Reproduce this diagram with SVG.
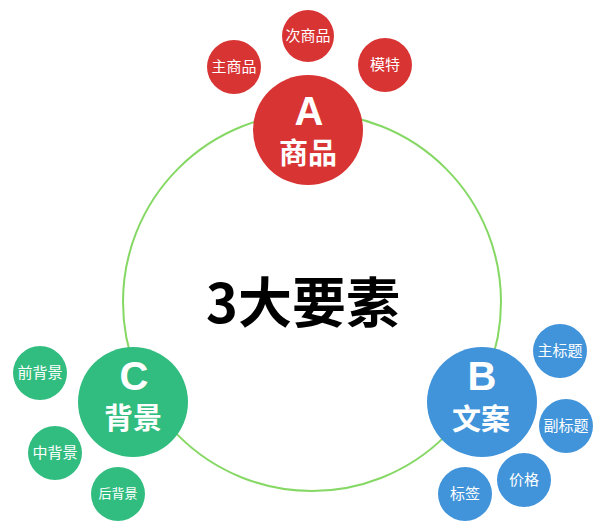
<svg xmlns="http://www.w3.org/2000/svg" width="610" height="532" viewBox="0 0 610 532">
<style>
.red{fill:#d93434}
.grn{fill:#32bd80}
.blu{fill:#4194da}
text{font-family:"Noto Sans CJK SC","Noto Sans",sans-serif;fill:#fff;text-anchor:middle}
.s{font-size:15px}
.big{font-size:29px;font-weight:bold}
.let{font-family:"Liberation Sans",Arial,sans-serif;font-size:40px;font-weight:bold}
</style>
<rect width="610" height="532" fill="#fff"/>
<g id="connectors">
<circle cx="312" cy="302" r="189" fill="none" stroke="#86d865" stroke-width="2"/>
</g>
<g id="center"><text x="303" y="323" style="font-size:54px;font-weight:bold;fill:#000">3大要素</text></g>
<g id="A"><circle class="red" cx="308" cy="130" r="55"/><text class="let" x="309" y="125">A</text><text class="big" x="308" y="164">商品</text></g>
<g id="zhu"><circle class="red" cx="234" cy="67" r="27"/><text class="s" x="234" y="72">主商品</text></g>
<g id="ci"><circle class="red" cx="308" cy="36" r="26"/><text class="s" x="308" y="41">次商品</text></g>
<g id="mote"><circle class="red" cx="385" cy="65" r="27"/><text class="s" x="385" y="70">模特</text></g>
<g id="C"><circle class="grn" cx="133" cy="402" r="55"/><text class="let" x="134" y="390">C</text><text class="big" x="133" y="429">背景</text></g>
<g id="qian"><circle class="grn" cx="40" cy="373" r="27"/><text class="s" x="40" y="378">前背景</text></g>
<g id="zhong"><circle class="grn" cx="55" cy="453" r="27"/><text class="s" x="55" y="458">中背景</text></g>
<g id="hou"><circle class="grn" cx="118" cy="494" r="27"/><text x="118" y="498" style="font-size:13px">后背景</text></g>
<g id="B"><circle class="blu" cx="482" cy="402" r="55"/><text class="let" x="482" y="390">B</text><text class="big" x="481" y="430">文案</text></g>
<g id="zhubt"><circle class="blu" cx="560" cy="351" r="27"/><text class="s" x="560" y="356">主标题</text></g>
<g id="fubt"><circle class="blu" cx="566" cy="426" r="27"/><text class="s" x="566" y="431">副标题</text></g>
<g id="jiage"><circle class="blu" cx="524" cy="480" r="27"/><text class="s" x="524" y="485">价格</text></g>
<g id="biaoqian"><circle class="blu" cx="465" cy="494" r="27"/><text class="s" x="465" y="499">标签</text></g>
</svg>
